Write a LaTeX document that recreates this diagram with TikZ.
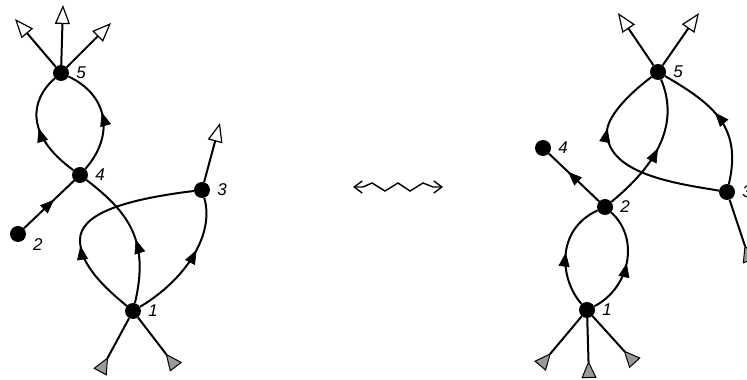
\documentclass[tikz,border=0pt]{standalone}
\usepackage{fontspec}
\setsansfont{Liberation Sans}
\usetikzlibrary{arrows.meta,decorations.markings}

\begin{document}
\begin{tikzpicture}[
  x=1pt, y=1pt,
  dot/.style={circle, fill=black, inner sep=0pt, minimum size=16pt},
  lab/.style={font=\sffamily\itshape\fontsize{17}{20}\selectfont, inner sep=1pt},
  every label/.style={lab},
  label distance=6pt,
  e/.style={line width=2pt},
  flow/.style={e, postaction={decorate}, decoration={markings,
      mark=at position #1 with {\arrow{Triangle[length=14pt,width=11pt,line width=0.6pt]}}}},
  flow/.default=0.55,
  outl/.style={e, -{Triangle[length=19pt,width=15pt,fill=white,line width=1.2pt]}},
  inl/.style={e, -{Triangle[reversed,length=17pt,width=15pt,fill=black!40,line width=1pt]}},
  equiv/.style={line width=1.4pt, line join=miter,
      {Straight Barb[length=8pt,width=12pt]}-{Straight Barb[length=8pt,width=12pt]}}
]
\useasboundingbox (0,0) rectangle (747,380);

% left graph
\node[dot, label=right:5]   (l5) at (61,307) {};
\node[dot, label=right:4]   (l4) at (80,205) {};
\node[dot, label=right:3]   (l3) at (202,190) {};
\node[dot, label=-12:2]     (l2) at (18,146) {};
\node[dot, label=right:1]   (l1) at (133,69) {};
\coordinate (l5a) at (15,361);
\coordinate (l5b) at (63,375);
\coordinate (l5c) at (111,357);
\coordinate (l3a) at (220,257);
\coordinate (l1a) at (100,8);
\coordinate (l1b) at (176,13);

\draw[flow=0.5] (l4) .. controls (25,245) and (30,280) .. (l5);
\draw[flow=0.55] (l4) .. controls (115,245) and (108,285) .. (l5);
\draw[flow=0.6] (l2) -- (l4);
\draw[flow=0.45] (l1) .. controls (150,140) and (128,168) .. (l4);
\draw[flow=0.36] (l1) .. controls (105,92) and (80,115) .. (80,140)
                      .. controls (80,165) and (120,180) .. (l3);
\draw[flow=0.6] (l1) .. controls (185,100) and (215,145) .. (l3);
\draw[outl] (l5) -- (l5a);
\draw[outl] (l5) -- (l5b);
\draw[outl] (l5) -- (l5c);
\draw[outl] (l3) -- (l3a);
\draw[inl] (l1) -- (l1a);
\draw[inl] (l1) -- (l1b);

% the move between them
\coordinate (wl) at (353,193);
\coordinate (wr) at (443,193);
\draw[equiv] (wl) -- (363,193) -- (372,197) -- (385,189) -- (398,197)
             -- (410,189) -- (423,197) -- (433,193) -- (wr);

% right graph
\node[dot, label=right:5]   (r5) at (658,308) {};
\node[dot, label=right:4]   (r4) at (543,232) {};
\node[dot, label=right:2]   (r2) at (605,173) {};
\node[dot, label=right:3]   (r3) at (727,188) {};
\node[dot, label=right:1]   (r1) at (587,70) {};
\coordinate (r5a) at (618,367);
\coordinate (r5b) at (699,367);
\coordinate (r3a) at (750,119);
\coordinate (r1a) at (540,14);
\coordinate (r1b) at (589,2);
\coordinate (r1c) at (635,17);

\draw[flow=0.5] (r1) .. controls (560,100) and (555,150) .. (r2);
\draw[flow=0.5] (r1) .. controls (630,92) and (640,142) .. (r2);
\draw[flow=0.62] (r2) -- (r4);
\draw[flow=0.5] (r2) .. controls (665,222) and (677,262) .. (r5);
\draw[flow=0.55] (r3) .. controls (742,252) and (715,275) .. (r5);
\draw[flow=0.67] (r3) .. controls (680,196) and (607,205) .. (607,248)
                      .. controls (607,262) and (625,283) .. (r5);
\draw[outl] (r5) -- (r5a);
\draw[outl] (r5) -- (r5b);
\draw[inl] (r3) -- (r3a);
\draw[inl] (r1) -- (r1a);
\draw[inl] (r1) -- (r1b);
\draw[inl] (r1) -- (r1c);
\end{tikzpicture}
\end{document}
